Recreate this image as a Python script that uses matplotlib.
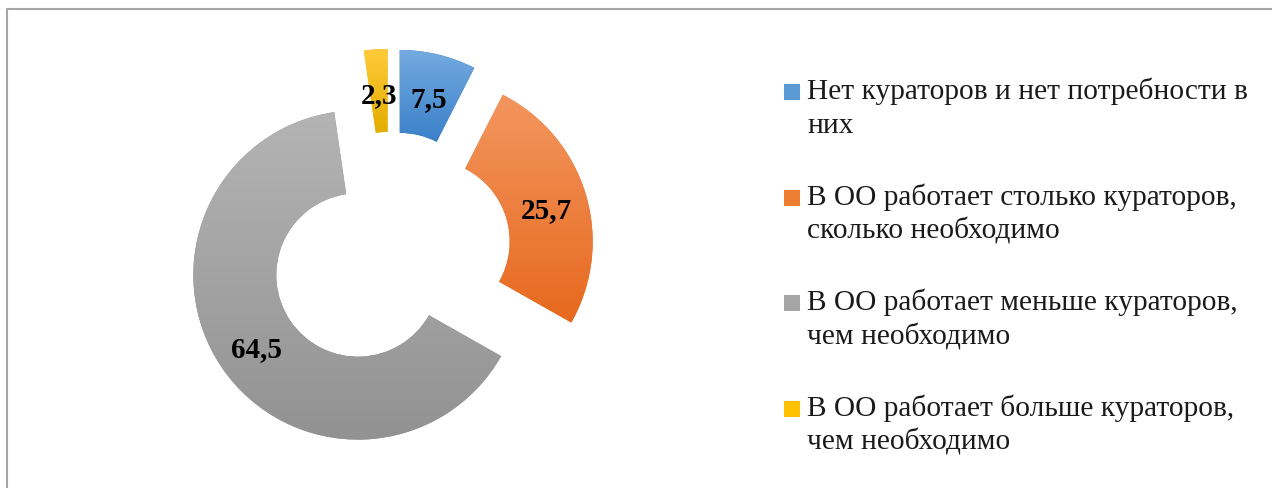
import matplotlib
matplotlib.use('Agg')
import matplotlib.pyplot as plt
import numpy as np
from matplotlib.patches import Rectangle
from matplotlib.lines import Line2D
from matplotlib.colors import LinearSegmentedColormap

# ── Data ──────────────────────────────────────────────────────────────────────
categories = [
    "Нет кураторов и нет потребности в\nних",
    "В ОО работает столько кураторов,\nсколько необходимо",
    "В ОО работает меньше кураторов,\nчем необходимо",
    "В ОО работает больше кураторов,\nчем необходимо",
]
values = [7.5, 25.7, 64.5, 2.3]

# gradient ends (top -> bottom) and flat legend colours
top_colors = ['#74AADF', '#F3965F', '#B4B4B4', '#FFCB3A']
bottom_colors = ['#3A80C9', '#E7691E', '#929292', '#E3AD00']
legend_colors = ['#5B9BD5', '#ED7D31', '#A5A5A5', '#FFC000']

FONT = 'Liberation Serif'
W, H = 1272, 489

fig = plt.figure(figsize=(W / 100, H / 100), dpi=100)

# ── Doughnut ──────────────────────────────────────────────────────────────────
cx, cy, R = 390.4, H - 253.8, 164.6          # pixels
side = 2.5 * R
ax = fig.add_axes([(cx - side / 2) / W, (cy - side / 2) / H, side / W, side / H])

total = sum(values)
wedges, _, autotexts = ax.pie(
    values, startangle=90, counterclock=False, radius=1,
    explode=[0.239] * len(values),
    wedgeprops=dict(width=0.504, linewidth=0),
    autopct=lambda p: f"{p * total / 100:.1f}".replace('.', ','),
    pctdistance=0.75,
    textprops=dict(fontsize=21, fontweight='bold', family=FONT, color='black'),
)

# vertical gradient inside every slice
grad = np.linspace(0, 1, 256).reshape(-1, 1)
for w, ct, cb in zip(wedges, top_colors, bottom_colors):
    w.set_facecolor(cb)
    ext = w.get_path().get_extents()
    cmap = LinearSegmentedColormap.from_list('g', [cb, ct])
    im = ax.imshow(grad, cmap=cmap, origin='lower', aspect='auto',
                   extent=(ext.x0, ext.x1, ext.y0, ext.y1),
                   interpolation='bilinear', zorder=1.5)
    im.set_clip_path(w)

# labels sit a few pixels lower than the ring middle
for t in autotexts:
    x, y = t.get_position()
    t.set_position((x, y - 4 / R))
    t.set_zorder(5)

ax.set_xlim(-1.25, 1.25)
ax.set_ylim(-1.25, 1.25)
ax.set_aspect('equal')
ax.axis('off')

# ── Legend (drawn by hand: marker sits on the first line) ─────────────────────
x_marker, x_text = 784, 807
first_base, entry_step, line_step = 99.3, 105.5, 34
for i, (lab, col) in enumerate(zip(categories, legend_colors)):
    yb = first_base + i * entry_step
    fig.add_artist(Rectangle((x_marker / W, 1 - (yb - 6 + 8) / H), 16 / W, 16 / H,
                             transform=fig.transFigure, facecolor=col, edgecolor='none'))
    for j, line in enumerate(lab.split('\n')):
        fig.text(x_text / W, 1 - (yb + j * line_step) / H, line, fontsize=21.2,
                 family=FONT, va='baseline', ha='left', color='#1a1a1a')

# ── Chart frame (only left and top edges are visible) ────────────────────────
fig.add_artist(Line2D([7 / W, 7 / W, 1], [0, 1 - 10 / H, 1 - 10 / H],
                      transform=fig.transFigure, color='#A6A6A6', lw=1.5))

fig.savefig('out.png', dpi=100)
